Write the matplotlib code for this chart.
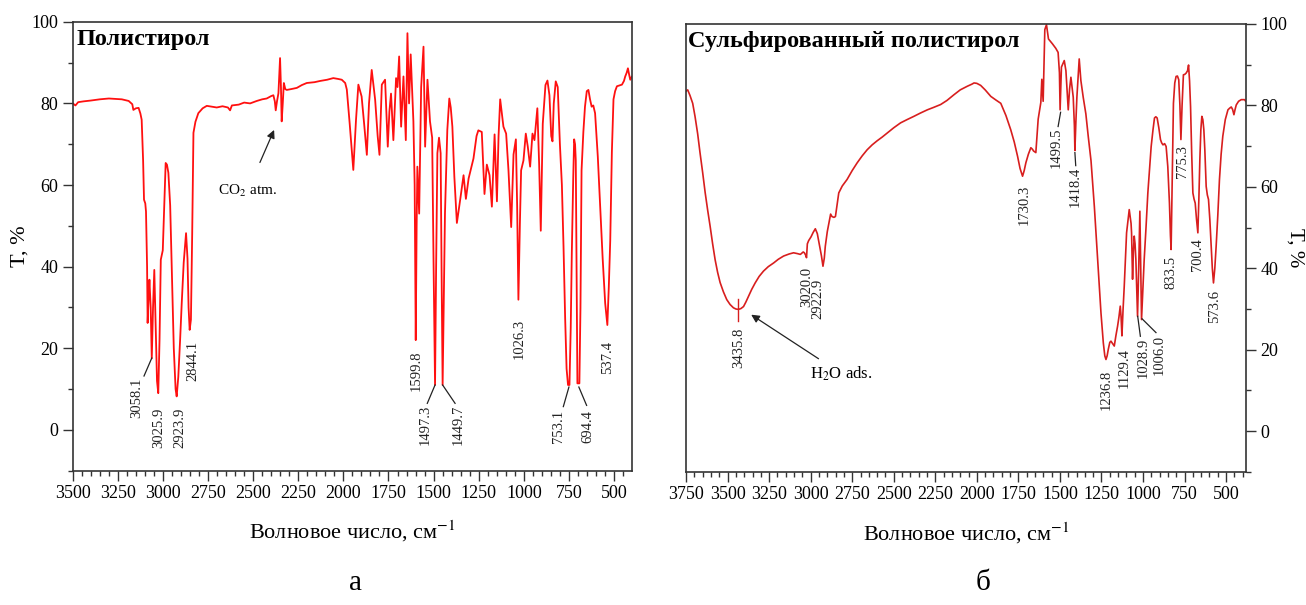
import matplotlib
matplotlib.use('Agg')
from matplotlib import pyplot as plt
from matplotlib.ticker import MultipleLocator

plt.rcParams['font.family'] = ['Liberation Serif', 'DejaVu Serif']
plt.rcParams['mathtext.fontset'] = 'stix'

# ИК-спектр полистирола (волновое число, см-1 / пропускание, %)
ps_wn = [3500, 3485, 3470, 3440, 3400, 3350, 3300, 3260, 3228, 3190, 3170, 3164, 3150, 3135,
         3125, 3118, 3110, 3105, 3098, 3094, 3088, 3085, 3080, 3075, 3068, 3062, 3055, 3048,
         3040, 3033, 3026, 3019, 3012, 3006, 3001, 2993, 2985, 2978, 2970, 2960, 2951, 2940,
         2930, 2924, 2915, 2905, 2896, 2885, 2872, 2864, 2858, 2852, 2845, 2838, 2831, 2820,
         2804, 2780, 2757, 2730, 2702, 2670, 2640, 2628, 2618, 2580, 2550, 2517, 2480, 2450,
         2425, 2400, 2388, 2380, 2375, 2368, 2360, 2351, 2346, 2342, 2336, 2330, 2322, 2314,
         2290, 2258, 2230, 2203, 2160, 2129, 2090, 2056, 2030, 2009, 1990, 1981, 1965, 1945,
         1930, 1917, 1899, 1885, 1870, 1858, 1843, 1824, 1810, 1800, 1787, 1769, 1754, 1745,
         1736, 1723, 1708, 1700, 1691, 1680, 1667, 1654, 1645, 1636, 1627, 1612, 1605, 1599,
         1594, 1590, 1580, 1569, 1556, 1547, 1534, 1520, 1508, 1500, 1492, 1486, 1479, 1470,
         1461, 1456, 1450, 1444, 1437, 1424, 1413, 1405, 1396, 1385, 1371, 1352, 1334, 1321,
         1306, 1279, 1262, 1252, 1233, 1225, 1218, 1205, 1190, 1177, 1162, 1149, 1140, 1131,
         1113, 1098, 1085, 1070, 1057, 1044, 1037, 1030, 1022, 1015, 1002, 989, 978, 965,
         952, 941, 925, 915, 906, 895, 880, 869, 858, 848, 841, 834, 823, 812, 800, 789,
         780, 771, 763, 755, 747, 740, 734, 726, 721, 716, 712, 708, 703, 692, 686, 680,
         670, 661, 651, 642, 633, 624, 615, 605, 590, 577, 563, 549, 537, 529, 521, 512,
         503, 494, 484, 470, 456, 445, 438, 430, 423, 416, 410, 402]
ps_t = [80.0, 79.5, 80.3, 80.5, 80.7, 81.0, 81.2, 81.1, 81.0, 80.6, 79.8, 78.4, 78.8, 78.9,
        77.5, 76.0, 66.0, 56.4, 55.5, 53.5, 40.0, 26.2, 32.0, 36.8, 30.0, 17.5, 30.0, 39.2,
        25.0, 12.0, 9.0, 22.0, 41.7, 43.0, 44.0, 55.0, 65.4, 65.0, 63.0, 55.0, 39.0, 20.0,
        10.0, 8.2, 13.0, 22.0, 31.0, 41.0, 48.2, 42.0, 30.0, 24.5, 27.0, 48.0, 72.8, 75.5,
        77.6, 78.8, 79.4, 79.2, 79.0, 79.3, 79.0, 78.3, 79.5, 79.7, 80.2, 80.0, 80.6, 81.0,
        81.2, 81.8, 82.0, 80.5, 78.3, 80.5, 82.5, 91.1, 84.0, 75.6, 80.0, 85.0, 83.5, 83.3,
        83.5, 83.8, 84.5, 85.0, 85.2, 85.5, 85.8, 86.2, 86.0, 85.8, 85.0, 83.4, 75.0, 63.7,
        76.0, 84.6, 81.7, 75.0, 67.4, 80.0, 88.2, 80.9, 72.0, 67.4, 84.6, 85.8, 69.4, 78.0,
        82.4, 71.0, 86.2, 84.0, 91.5, 74.3, 86.6, 71.0, 97.2, 80.0, 92.0, 75.6, 60.0, 22.0,
        50.0, 64.5, 53.0, 84.0, 93.9, 69.4, 85.8, 75.6, 71.6, 40.0, 11.0, 40.0, 67.8, 71.6,
        67.8, 40.0, 11.0, 30.0, 53.0, 73.5, 81.2, 79.0, 74.3, 62.0, 50.7, 56.6, 62.4, 56.6,
        61.6, 66.5, 72.0, 73.4, 73.0, 65.0, 57.8, 65.0, 62.4, 54.7, 72.4, 56.0, 72.0, 81.0,
        74.3, 72.6, 63.6, 49.7, 67.5, 71.2, 55.0, 31.9, 50.0, 63.6, 66.0, 72.6, 69.4, 64.5,
        72.6, 71.0, 78.8, 65.0, 48.8, 75.0, 84.5, 85.6, 82.0, 72.0, 70.7, 80.0, 85.4, 84.0,
        70.0, 60.0, 45.0, 27.5, 15.0, 11.0, 11.0, 25.0, 43.3, 62.0, 71.2, 70.0, 66.0, 40.0,
        11.4, 11.4, 30.0, 63.6, 73.0, 79.2, 83.0, 83.3, 81.0, 79.2, 79.5, 77.6, 67.0, 54.7,
        42.0, 31.0, 25.7, 35.0, 46.4, 68.0, 81.0, 83.0, 84.2, 84.4, 84.6, 85.5, 86.6, 87.5,
        88.6, 87.0, 85.8, 86.5]

# ИК-спектр сульфированного полистирола
sps_wn = [3750, 3740, 3726, 3710, 3696, 3680, 3666, 3650, 3635, 3620, 3605, 3590, 3575, 3560,
          3545, 3525, 3505, 3485, 3465, 3450, 3435, 3420, 3404, 3390, 3374, 3355, 3334, 3310,
          3284, 3255, 3223, 3195, 3163, 3130, 3103, 3080, 3062, 3045, 3038, 3030, 3025, 3020,
          3012, 2998, 2985, 2972, 2960, 2946, 2935, 2926, 2918, 2912, 2900, 2892, 2880, 2872,
          2860, 2851, 2840, 2831, 2810, 2781, 2750, 2720, 2690, 2660, 2630, 2600, 2570, 2540,
          2500, 2459, 2420, 2379, 2340, 2298, 2260, 2218, 2180, 2138, 2100, 2057, 2030, 2017,
          2000, 1977, 1950, 1916, 1885, 1856, 1825, 1796, 1775, 1755, 1740, 1725, 1715, 1705,
          1690, 1675, 1665, 1659, 1645, 1631, 1615, 1609, 1601, 1591, 1581, 1569, 1545, 1525,
          1511, 1503, 1499, 1491, 1474, 1464, 1450, 1442, 1434, 1420, 1413, 1410, 1404, 1398,
          1384, 1374, 1360, 1344, 1330, 1313, 1293, 1273, 1253, 1239, 1230, 1223, 1216, 1209,
          1200, 1193, 1183, 1173, 1163, 1153, 1145, 1137, 1132, 1127, 1120, 1113, 1099, 1083,
          1072, 1069, 1063, 1058, 1053, 1048, 1043, 1038, 1033, 1026, 1019, 1014, 1009, 1001,
          993, 982, 971, 951, 940, 931, 923, 915, 905, 895, 888, 880, 870, 861, 851, 841,
          835, 831, 825, 817, 809, 801, 793, 785, 778, 772, 765, 757, 749, 741, 732, 726,
          720, 714, 707, 700, 693, 686, 678, 670, 664, 658, 652, 646, 640, 634, 628, 620,
          613, 606, 598, 590, 583, 576, 568, 560, 550, 540, 530, 520, 505, 489, 479, 469,
          461, 453, 446, 439, 425, 409, 389, 382]
sps_t = [83.5, 83.8, 82.4, 80.5, 77.3, 73.0, 68.4, 63.5, 58.6, 54.3, 50.3, 46.0, 42.1, 39.0,
         36.5, 34.2, 32.3, 31.1, 30.3, 30.0, 29.9, 30.1, 30.6, 31.7, 33.1, 34.8, 36.4, 38.0,
         39.3, 40.4, 41.3, 42.2, 43.0, 43.5, 43.8, 43.6, 43.4, 44.0, 43.8, 43.2, 42.6, 46.0,
         46.8, 47.7, 48.8, 49.7, 48.5, 45.4, 43.0, 40.5, 42.5, 45.4, 49.0, 50.7, 53.3, 52.7,
         52.5, 52.7, 56.0, 58.5, 60.2, 61.8, 64.0, 65.9, 67.6, 69.1, 70.3, 71.3, 72.2, 73.2,
         74.5, 75.7, 76.5, 77.3, 78.1, 78.9, 79.5, 80.2, 81.2, 82.6, 83.8, 84.7, 85.2, 85.5,
         85.4, 84.9, 83.8, 82.2, 81.3, 80.5, 77.5, 74.0, 71.0, 67.5, 64.5, 62.6, 64.0, 65.9,
         68.0, 69.6, 69.2, 68.8, 68.4, 76.6, 80.7, 86.4, 81.0, 98.6, 99.8, 96.3, 95.1, 94.0,
         93.0, 88.0, 78.9, 89.4, 91.0, 88.5, 78.9, 84.0, 86.9, 82.0, 75.0, 68.9, 76.0, 82.0,
         91.4, 86.1, 82.0, 77.9, 72.5, 66.4, 55.2, 42.1, 29.0, 21.7, 18.5, 17.6, 18.5, 20.1,
         21.8, 22.1, 21.5, 20.9, 23.5, 25.8, 28.0, 30.7, 28.0, 23.4, 30.0, 35.6, 48.7, 54.4,
         51.0, 48.7, 37.3, 44.0, 47.9, 46.0, 42.1, 35.0, 28.2, 40.0, 54.0, 40.0, 27.4, 35.0,
         42.1, 50.0, 58.5, 69.9, 74.0, 76.9, 77.2, 76.9, 74.5, 71.6, 70.8, 70.3, 70.6, 69.9,
         65.0, 56.0, 48.0, 44.6, 60.0, 80.5, 85.5, 87.1, 87.2, 86.3, 80.0, 71.6, 80.0, 87.5,
         87.6, 87.9, 88.5, 89.9, 86.0, 79.7, 68.0, 58.5, 57.0, 56.0, 52.0, 48.7, 57.0, 66.7,
         74.0, 77.3, 76.5, 74.0, 69.0, 60.1, 58.0, 56.9, 52.0, 45.4, 40.0, 36.4, 40.0, 45.4,
         53.0, 61.8, 68.0, 72.4, 76.5, 78.9, 79.3, 79.6, 79.0, 77.7, 79.0, 80.1, 81.0, 81.4,
         81.4, 81.0]

# подписи пиков
ps_peaks = ['3058.1', '3025.9', '2923.9', '2844.1', '1599.8', '1497.3', '1449.7',
            '1026.3', '753.1', '694.4', '537.4']
sps_peaks = ['3435.8', '3020.0', '2922.9', '1730.3', '1499.5', '1418.4', '1236.8',
             '1129.4', '1028.9', '1006.0', '833.5', '775.3', '700.4', '573.6']

xlab = 'Волновое число, см$^{-1}$'

fig = plt.figure(figsize=(13.06, 6.05), dpi=100)
ax1 = fig.add_axes([0.0557, 0.222, 0.428, 0.742])
ax2 = fig.add_axes([0.5253, 0.220, 0.4288, 0.7405])

ax1.plot(ps_wn, ps_t, color='#ff1010', lw=1.3)
ax2.plot(sps_wn, sps_t, color='#d81e1e', lw=1.2)

ax1.set_xlim(3500, 402)
ax2.set_xlim(3750, 380)
for ax in (ax1, ax2):
    ax.set_ylim(-10, 100)
    ax.xaxis.set_major_locator(MultipleLocator(250))
    ax.xaxis.set_minor_locator(MultipleLocator(50))
    ax.yaxis.set_major_locator(MultipleLocator(20))
    ax.yaxis.set_minor_locator(MultipleLocator(10))
    ax.tick_params(which='major', length=7, width=1, labelsize=13, color='#333333')
    ax.tick_params(which='minor', length=3.5, width=1, color='#333333')
    for s in ax.spines.values():
        s.set_color('#333333')
        s.set_linewidth(1.2)
    ax.set_xlabel(xlab, fontsize=16, labelpad=12)

ax2.yaxis.tick_right()
ax2.yaxis.set_label_position('right')
ax1.set_ylabel('T, %', fontsize=16, labelpad=1)
ax2.set_ylabel('T, %', fontsize=15, rotation=270, labelpad=12)

ax1.text(0.006, 0.985, 'Полистирол', transform=ax1.transAxes, fontsize=17.5,
         fontweight='bold', ha='left', va='top')
ax2.text(0.004, 0.985, 'Сульфированный полистирол', transform=ax2.transAxes, fontsize=17.5,
         fontweight='bold', ha='left', va='top')

# подписи пиков: (x, y) центра текста
ps_pos = [(3147, 7.8), (3025, 0.5), (2905, 0.5), (2832, 16.8), (1599, 14.5), (1546, 1.2),
          (1364, 1.2), (1024, 22.3), (805, 0.8), (645, 0.8), (537, 17.8)]
for txt, (x, y) in zip(ps_peaks, ps_pos):
    ax1.text(x, y, txt, rotation=90, ha='center', va='center', fontsize=10.5, color='#222222')

sps_pos = [(3432, 20.4), (3026, 35.4), (2958, 32.4), (1716, 55.5), (1524, 69.7), (1410, 60.1),
           (1223, 10.2), (1116, 15.4), (997, 18.1), (901, 18.6), (831, 38.9), (760, 66.3),
           (674, 43.4), (570, 30.5)]
for txt, (x, y) in zip(sps_peaks, sps_pos):
    ax2.text(x, y, txt, rotation=90, ha='center', va='center', fontsize=10.5, color='#222222')

# выноски
lead = dict(color='#222222', lw=0.9)
ax1.plot([3062, 3105], [17.6, 13.2], **lead)
ax1.plot([1492, 1535], [11, 6.5], **lead)
ax1.plot([1450, 1381], [11, 6.5], **lead)
ax1.plot([750, 781], [10.5, 5.7], **lead)
ax1.plot([695, 652], [10.5, 6.0], **lead)
ax2.plot([1496, 1511], [78.3, 74.8], **lead)
ax2.plot([1410, 1405], [68.4, 65.2], **lead)
ax2.plot([1032, 1016], [28.2, 23.3], **lead)
ax2.plot([1006, 922], [27.6, 24.2], **lead)
ax2.plot([3435, 3435], [27, 32.5], color='#d81e1e', lw=1.0)

ax1.annotate('CO$_2$ atm.', xy=(2384, 73.5), xytext=(2695, 58.5), fontsize=11,
             ha='left', va='center',
             arrowprops=dict(arrowstyle='-|>', color='#222222', lw=0.9,
                             shrinkA=14, shrinkB=0, mutation_scale=12))
ax2.annotate('H$_2$O ads.', xy=(3358, 28.6), xytext=(3002, 14.1), fontsize=12,
             ha='left', va='center',
             arrowprops=dict(arrowstyle='-|>', color='#222222', lw=0.9,
                             shrinkA=4, shrinkB=0, mutation_scale=12))

fig.text(355 / 1306, 1 - 583 / 605, 'а', fontsize=21, ha='center', va='center')
fig.text(983 / 1306, 1 - 583 / 605, 'б', fontsize=21, ha='center', va='center')

fig.savefig('out.png', dpi=100)
